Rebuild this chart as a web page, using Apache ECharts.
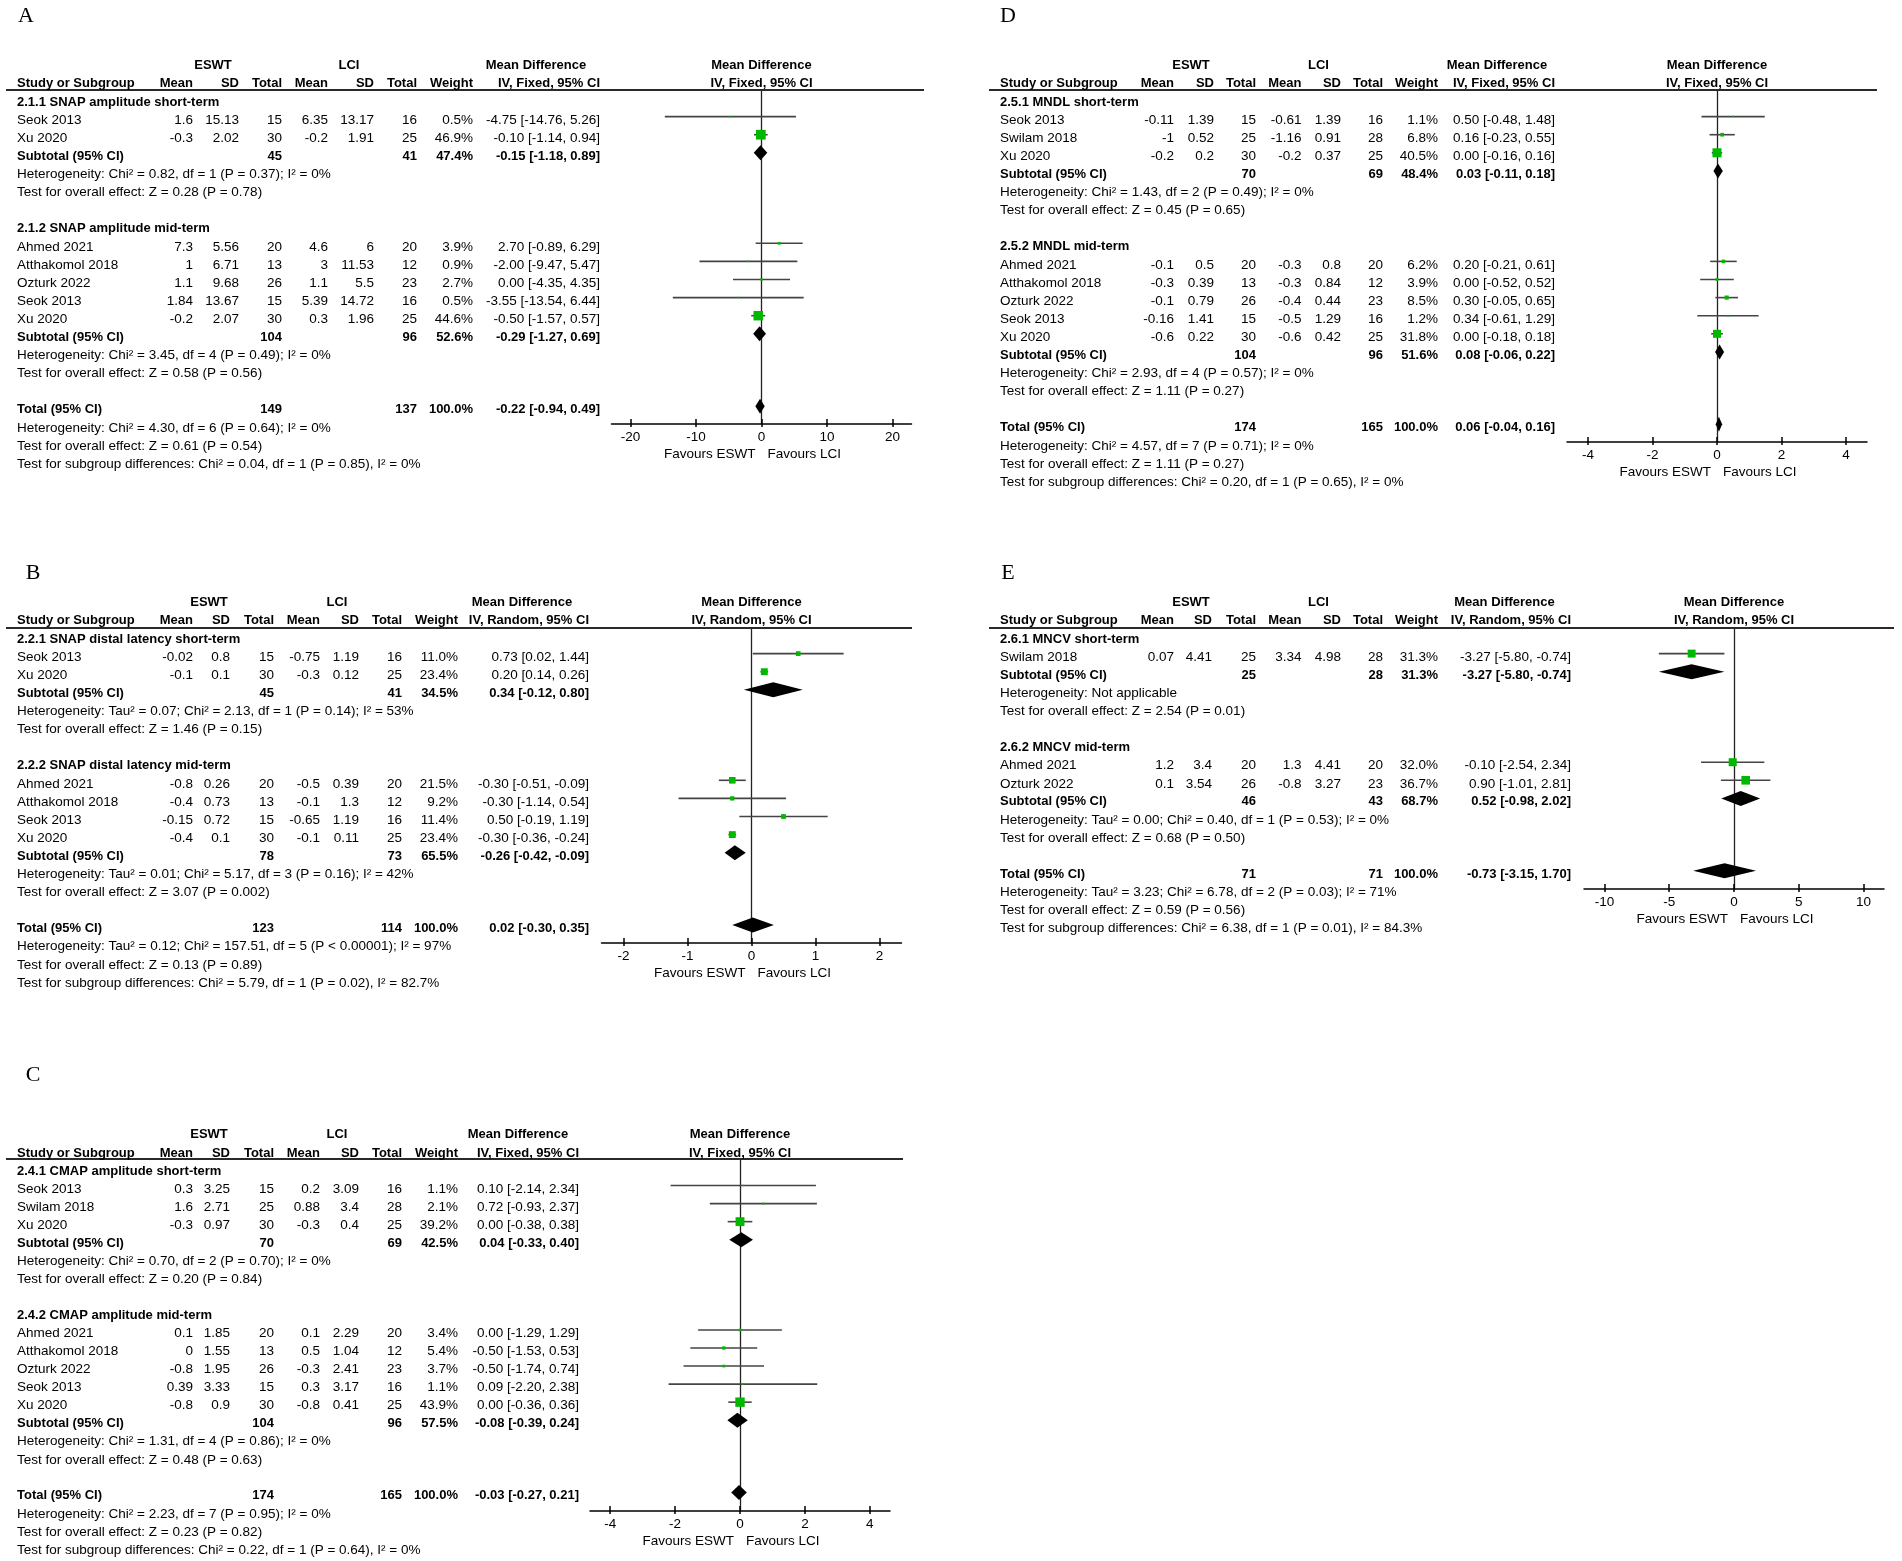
<!DOCTYPE html>
<html>
<head>
<meta charset="utf-8">
<script src="https://cdn.jsdelivr.net/npm/echarts@6.0.0/dist/echarts.min.js"></script>
<style>
html,body{margin:0;padding:0;background:#fff;}
#c{width:1902px;height:1561px;}
</style>
</head>
<body>
<div id="c"></div>
<script>
// ---------------- DATA ----------------
// row types: g = subgroup heading, s = study, sub = subtotal/total (diamond), t = text line, b = blank
// s:   [type, name, meanE, sdE, nE, meanL, sdL, nL, weight%, MD, lo, hi]
// sub: [type, label, nE, nL, weight%, MD, lo, hi]
const panelLabels = ['A', 'B', 'C', 'D', 'E'];
const methods = ['IV, Fixed, 95% CI', 'IV, Random, 95% CI', 'IV, Fixed, 95% CI', 'IV, Fixed, 95% CI', 'IV, Random, 95% CI'];
const ticksA = [-20, -10, 0, 10, 20];
const ticksB = [-2, -1, 0, 1, 2];
const ticksC = [-4, -2, 0, 2, 4];
const ticksD = [-4, -2, 0, 2, 4];
const ticksE = [-10, -5, 0, 5, 10];

const rowsA = [
  ['g', '2.1.1 SNAP amplitude short-term'],
  ['s', 'Seok 2013', 1.6, 15.13, 15, 6.35, 13.17, 16, 0.5, -4.75, -14.76, 5.26],
  ['s', 'Xu 2020', -0.3, 2.02, 30, -0.2, 1.91, 25, 46.9, -0.10, -1.14, 0.94],
  ['sub', 'Subtotal (95% CI)', 45, 41, 47.4, -0.15, -1.18, 0.89],
  ['t', 'Heterogeneity: Chi² = 0.82, df = 1 (P = 0.37); I² = 0%'],
  ['t', 'Test for overall effect: Z = 0.28 (P = 0.78)'],
  ['b'],
  ['g', '2.1.2 SNAP amplitude mid-term'],
  ['s', 'Ahmed 2021', 7.3, 5.56, 20, 4.6, 6, 20, 3.9, 2.70, -0.89, 6.29],
  ['s', 'Atthakomol 2018', 1, 6.71, 13, 3, 11.53, 12, 0.9, -2.00, -9.47, 5.47],
  ['s', 'Ozturk 2022', 1.1, 9.68, 26, 1.1, 5.5, 23, 2.7, 0.00, -4.35, 4.35],
  ['s', 'Seok 2013', 1.84, 13.67, 15, 5.39, 14.72, 16, 0.5, -3.55, -13.54, 6.44],
  ['s', 'Xu 2020', -0.2, 2.07, 30, 0.3, 1.96, 25, 44.6, -0.50, -1.57, 0.57],
  ['sub', 'Subtotal (95% CI)', 104, 96, 52.6, -0.29, -1.27, 0.69],
  ['t', 'Heterogeneity: Chi² = 3.45, df = 4 (P = 0.49); I² = 0%'],
  ['t', 'Test for overall effect: Z = 0.58 (P = 0.56)'],
  ['b'],
  ['sub', 'Total (95% CI)', 149, 137, 100.0, -0.22, -0.94, 0.49],
  ['t', 'Heterogeneity: Chi² = 4.30, df = 6 (P = 0.64); I² = 0%'],
  ['t', 'Test for overall effect: Z = 0.61 (P = 0.54)'],
  ['t', 'Test for subgroup differences: Chi² = 0.04, df = 1 (P = 0.85), I² = 0%']
];

const rowsB = [
  ['g', '2.2.1 SNAP distal latency short-term'],
  ['s', 'Seok 2013', -0.02, 0.8, 15, -0.75, 1.19, 16, 11.0, 0.73, 0.02, 1.44],
  ['s', 'Xu 2020', -0.1, 0.1, 30, -0.3, 0.12, 25, 23.4, 0.20, 0.14, 0.26],
  ['sub', 'Subtotal (95% CI)', 45, 41, 34.5, 0.34, -0.12, 0.80],
  ['t', 'Heterogeneity: Tau² = 0.07; Chi² = 2.13, df = 1 (P = 0.14); I² = 53%'],
  ['t', 'Test for overall effect: Z = 1.46 (P = 0.15)'],
  ['b'],
  ['g', '2.2.2 SNAP distal latency mid-term'],
  ['s', 'Ahmed 2021', -0.8, 0.26, 20, -0.5, 0.39, 20, 21.5, -0.30, -0.51, -0.09],
  ['s', 'Atthakomol 2018', -0.4, 0.73, 13, -0.1, 1.3, 12, 9.2, -0.30, -1.14, 0.54],
  ['s', 'Seok 2013', -0.15, 0.72, 15, -0.65, 1.19, 16, 11.4, 0.50, -0.19, 1.19],
  ['s', 'Xu 2020', -0.4, 0.1, 30, -0.1, 0.11, 25, 23.4, -0.30, -0.36, -0.24],
  ['sub', 'Subtotal (95% CI)', 78, 73, 65.5, -0.26, -0.42, -0.09],
  ['t', 'Heterogeneity: Tau² = 0.01; Chi² = 5.17, df = 3 (P = 0.16); I² = 42%'],
  ['t', 'Test for overall effect: Z = 3.07 (P = 0.002)'],
  ['b'],
  ['sub', 'Total (95% CI)', 123, 114, 100.0, 0.02, -0.30, 0.35],
  ['t', 'Heterogeneity: Tau² = 0.12; Chi² = 157.51, df = 5 (P < 0.00001); I² = 97%'],
  ['t', 'Test for overall effect: Z = 0.13 (P = 0.89)'],
  ['t', 'Test for subgroup differences: Chi² = 5.79, df = 1 (P = 0.02), I² = 82.7%']
];

const rowsC = [
  ['g', '2.4.1 CMAP amplitude short-term'],
  ['s', 'Seok 2013', 0.3, 3.25, 15, 0.2, 3.09, 16, 1.1, 0.10, -2.14, 2.34],
  ['s', 'Swilam 2018', 1.6, 2.71, 25, 0.88, 3.4, 28, 2.1, 0.72, -0.93, 2.37],
  ['s', 'Xu 2020', -0.3, 0.97, 30, -0.3, 0.4, 25, 39.2, 0.00, -0.38, 0.38],
  ['sub', 'Subtotal (95% CI)', 70, 69, 42.5, 0.04, -0.33, 0.40],
  ['t', 'Heterogeneity: Chi² = 0.70, df = 2 (P = 0.70); I² = 0%'],
  ['t', 'Test for overall effect: Z = 0.20 (P = 0.84)'],
  ['b'],
  ['g', '2.4.2 CMAP amplitude mid-term'],
  ['s', 'Ahmed 2021', 0.1, 1.85, 20, 0.1, 2.29, 20, 3.4, 0.00, -1.29, 1.29],
  ['s', 'Atthakomol 2018', 0, 1.55, 13, 0.5, 1.04, 12, 5.4, -0.50, -1.53, 0.53],
  ['s', 'Ozturk 2022', -0.8, 1.95, 26, -0.3, 2.41, 23, 3.7, -0.50, -1.74, 0.74],
  ['s', 'Seok 2013', 0.39, 3.33, 15, 0.3, 3.17, 16, 1.1, 0.09, -2.20, 2.38],
  ['s', 'Xu 2020', -0.8, 0.9, 30, -0.8, 0.41, 25, 43.9, 0.00, -0.36, 0.36],
  ['sub', 'Subtotal (95% CI)', 104, 96, 57.5, -0.08, -0.39, 0.24],
  ['t', 'Heterogeneity: Chi² = 1.31, df = 4 (P = 0.86); I² = 0%'],
  ['t', 'Test for overall effect: Z = 0.48 (P = 0.63)'],
  ['b'],
  ['sub', 'Total (95% CI)', 174, 165, 100.0, -0.03, -0.27, 0.21],
  ['t', 'Heterogeneity: Chi² = 2.23, df = 7 (P = 0.95); I² = 0%'],
  ['t', 'Test for overall effect: Z = 0.23 (P = 0.82)'],
  ['t', 'Test for subgroup differences: Chi² = 0.22, df = 1 (P = 0.64), I² = 0%']
];

const rowsD = [
  ['g', '2.5.1 MNDL short-term'],
  ['s', 'Seok 2013', -0.11, 1.39, 15, -0.61, 1.39, 16, 1.1, 0.50, -0.48, 1.48],
  ['s', 'Swilam 2018', -1, 0.52, 25, -1.16, 0.91, 28, 6.8, 0.16, -0.23, 0.55],
  ['s', 'Xu 2020', -0.2, 0.2, 30, -0.2, 0.37, 25, 40.5, 0.00, -0.16, 0.16],
  ['sub', 'Subtotal (95% CI)', 70, 69, 48.4, 0.03, -0.11, 0.18],
  ['t', 'Heterogeneity: Chi² = 1.43, df = 2 (P = 0.49); I² = 0%'],
  ['t', 'Test for overall effect: Z = 0.45 (P = 0.65)'],
  ['b'],
  ['g', '2.5.2 MNDL mid-term'],
  ['s', 'Ahmed 2021', -0.1, 0.5, 20, -0.3, 0.8, 20, 6.2, 0.20, -0.21, 0.61],
  ['s', 'Atthakomol 2018', -0.3, 0.39, 13, -0.3, 0.84, 12, 3.9, 0.00, -0.52, 0.52],
  ['s', 'Ozturk 2022', -0.1, 0.79, 26, -0.4, 0.44, 23, 8.5, 0.30, -0.05, 0.65],
  ['s', 'Seok 2013', -0.16, 1.41, 15, -0.5, 1.29, 16, 1.2, 0.34, -0.61, 1.29],
  ['s', 'Xu 2020', -0.6, 0.22, 30, -0.6, 0.42, 25, 31.8, 0.00, -0.18, 0.18],
  ['sub', 'Subtotal (95% CI)', 104, 96, 51.6, 0.08, -0.06, 0.22],
  ['t', 'Heterogeneity: Chi² = 2.93, df = 4 (P = 0.57); I² = 0%'],
  ['t', 'Test for overall effect: Z = 1.11 (P = 0.27)'],
  ['b'],
  ['sub', 'Total (95% CI)', 174, 165, 100.0, 0.06, -0.04, 0.16],
  ['t', 'Heterogeneity: Chi² = 4.57, df = 7 (P = 0.71); I² = 0%'],
  ['t', 'Test for overall effect: Z = 1.11 (P = 0.27)'],
  ['t', 'Test for subgroup differences: Chi² = 0.20, df = 1 (P = 0.65), I² = 0%']
];

const rowsE = [
  ['g', '2.6.1 MNCV short-term'],
  ['s', 'Swilam 2018', 0.07, 4.41, 25, 3.34, 4.98, 28, 31.3, -3.27, -5.80, -0.74],
  ['sub', 'Subtotal (95% CI)', 25, 28, 31.3, -3.27, -5.80, -0.74],
  ['t', 'Heterogeneity: Not applicable'],
  ['t', 'Test for overall effect: Z = 2.54 (P = 0.01)'],
  ['b'],
  ['g', '2.6.2 MNCV mid-term'],
  ['s', 'Ahmed 2021', 1.2, 3.4, 20, 1.3, 4.41, 20, 32.0, -0.10, -2.54, 2.34],
  ['s', 'Ozturk 2022', 0.1, 3.54, 26, -0.8, 3.27, 23, 36.7, 0.90, -1.01, 2.81],
  ['sub', 'Subtotal (95% CI)', 46, 43, 68.7, 0.52, -0.98, 2.02],
  ['t', 'Heterogeneity: Tau² = 0.00; Chi² = 0.40, df = 1 (P = 0.53); I² = 0%'],
  ['t', 'Test for overall effect: Z = 0.68 (P = 0.50)'],
  ['b'],
  ['sub', 'Total (95% CI)', 71, 71, 100.0, -0.73, -3.15, 1.70],
  ['t', 'Heterogeneity: Tau² = 3.23; Chi² = 6.78, df = 2 (P = 0.03); I² = 71%'],
  ['t', 'Test for overall effect: Z = 0.59 (P = 0.56)'],
  ['t', 'Test for subgroup differences: Chi² = 6.38, df = 1 (P = 0.01), I² = 84.3%']
];

const headerRow1 = ['ESWT', 'LCI', 'Mean Difference'];
const headerRow2 = ['Study or Subgroup', 'Mean', 'SD', 'Total', 'Mean', 'SD', 'Total', 'Weight'];
const favours = ['Favours ESWT', 'Favours LCI'];

// ---------------- LAYOUT (pixel positions only) ----------------
const layouts = [
  {lx: 26, ly: 16, T0: 102, P: 18.1, H: 90, X: 424, lineL: 6, lineR: 924, zero: 761.5, ppu: 6.55,
   cols: [17, 193, 239, 282, 328, 374, 417, 473, 600], hdr: [213, 349, 536]},
  {lx: 33, ly: 573, T0: 639, P: 18.1, H: 628, X: 943, lineL: 6, lineR: 912, zero: 751.5, ppu: 64,
   cols: [17, 193, 230, 274, 320, 359, 402, 458, 589], hdr: [209, 337, 522]},
  {lx: 33, ly: 1075, T0: 1171, P: 18.05, H: 1159, X: 1511, lineL: 6, lineR: 903, zero: 740, ppu: 32.45,
   cols: [17, 193, 230, 274, 320, 359, 402, 458, 579], hdr: [209, 337, 518]},
  {lx: 1008, ly: 16, T0: 102, P: 18.1, H: 90, X: 442, lineL: 989, lineR: 1877, zero: 1717, ppu: 32.27,
   cols: [1000, 1174, 1214, 1256, 1301.5, 1341, 1383, 1438, 1555], hdr: [1191, 1318.5, 1497]},
  {lx: 1008, ly: 573, T0: 639, P: 18.1, H: 628, X: 889, lineL: 989, lineR: 1894, zero: 1734, ppu: 12.96,
   cols: [1000, 1174, 1212, 1256, 1301.5, 1341, 1383, 1438, 1571], hdr: [1191, 1318.5, 1504.5]}
];
const allRows = [rowsA, rowsB, rowsC, rowsD, rowsE];
const allTicks = [ticksA, ticksB, ticksC, ticksD, ticksE];

const FONT_FAMILY = '"Liberation Sans", Arial, sans-serif';
const F_REG = '13.5px ' + FONT_FAMILY;
const F_BOLD = 'bold 13px ' + FONT_FAMILY;
const OFF = 3.5;      // marks sit slightly above the text centre
const HALF = 150;     // half width of plot area (px)
const GREEN = '#00b800';

function renderStudy(params, api) {
  const md = api.value(0), lo = api.value(1), hi = api.value(2), r = api.value(3), w = api.value(4);
  const a = api.coord([lo, r]), b = api.coord([hi, r]), c = api.coord([md, r]);
  const s = Math.max(1.5, 1.42 * Math.sqrt(w));
  return {
    type: 'group',
    children: [
      {type: 'line', shape: {x1: a[0], y1: a[1], x2: b[0], y2: b[1]}, style: {stroke: '#444', lineWidth: 1.6}},
      {type: 'rect', shape: {x: c[0] - s / 2, y: c[1] - s / 2, width: s, height: s}, style: {fill: GREEN}}
    ]
  };
}
function renderDiamond(params, api) {
  const md = api.value(0), lo = api.value(1), hi = api.value(2), r = api.value(3);
  const a = api.coord([lo, r]), b = api.coord([hi, r]), c = api.coord([md, r]);
  const h = 7.5;
  return {
    type: 'polygon',
    shape: {points: [[a[0], a[1]], [c[0], c[1] - h], [b[0], b[1]], [c[0], c[1] + h]]},
    style: {fill: '#000'}
  };
}

const chart = echarts.init(document.getElementById('c'), null, {renderer: 'canvas'});
const grids = [], xAxes = [], yAxes = [], series = [];

layouts.forEach((p, k) => {
  const rows = allRows[k];
  const ticks = allTicks[k];
  const xr = HALF / p.ppu;
  grids.push({left: p.zero - HALF, width: 2 * HALF, top: p.H, height: p.X - p.H,
              containLabel: false, outerBoundsMode: 'none', show: false});
  xAxes.push({
    gridIndex: k, type: 'value', min: -xr, max: xr, position: 'bottom',
    axisLine: {show: true, onZero: false, lineStyle: {color: '#000', width: 1.5}},
    axisTick: {show: true, inside: true, length: 5, customValues: ticks, lineStyle: {color: '#000', width: 1.5}},
    axisLabel: {show: true, customValues: ticks, margin: 6, color: '#000', fontSize: 13.5, fontFamily: FONT_FAMILY,
                formatter: v => String(v)},
    splitLine: {show: false}
  });
  xAxes.push({
    gridIndex: k, type: 'value', min: -xr, max: xr, position: 'bottom',
    axisLine: {show: false, onZero: false},
    axisTick: {show: true, inside: false, length: 3, customValues: ticks, lineStyle: {color: '#000', width: 1.5}},
    axisLabel: {show: false},
    splitLine: {show: false}
  });
  yAxes.push({
    gridIndex: k, type: 'value', inverse: true,
    min: (p.H - (p.T0 - OFF)) / p.P, max: (p.X - (p.T0 - OFF)) / p.P,
    axisLine: {show: true, onZero: true, lineStyle: {color: '#222', width: 1.3}},
    axisTick: {show: false}, axisLabel: {show: false}, splitLine: {show: false}
  });
  const studyData = [], diamondData = [];
  rows.forEach((r, i) => {
    if (r[0] === 's') studyData.push([r[9], r[10], r[11], i, r[8]]);
    if (r[0] === 'sub') diamondData.push([r[5], r[6], r[7], i]);
  });
  series.push({type: 'custom', coordinateSystem: 'cartesian2d', xAxisIndex: 2 * k, yAxisIndex: k,
               renderItem: renderStudy, data: studyData, encode: {x: [0, 1, 2], y: 3}, silent: true, z: 3});
  series.push({type: 'custom', coordinateSystem: 'cartesian2d', xAxisIndex: 2 * k, yAxisIndex: k,
               renderItem: renderDiamond, data: diamondData, encode: {x: [0, 1, 2], y: 3}, silent: true, z: 4});
});

chart.setOption({
  animation: false,
  backgroundColor: '#fff',
  grid: grids, xAxis: xAxes, yAxis: yAxes, series: series
});

// ---------------- TEXT (table) ----------------
function txt(text, x, y, font, align) {
  return {type: 'text', silent: true, z: 10,
    style: {text: String(text), x: x, y: y, font: font, fill: '#000',
            textAlign: align, align: align, textVerticalAlign: 'middle', verticalAlign: 'middle'}};
}
const fmt = v => String(v);
const fmtMD = (md, lo, hi) => md.toFixed(2) + ' [' + lo.toFixed(2) + ', ' + hi.toFixed(2) + ']';

const graphics = [];
layouts.forEach((p, k) => {
  const rows = allRows[k];
  const c = p.cols;
  const ry = r => chart.convertToPixel({yAxisIndex: k}, r) + OFF;
  // panel letter
  graphics.push({type: 'text', silent: true,
    style: {text: panelLabels[k], x: p.lx, y: p.ly, font: '22px "Liberation Serif", "Times New Roman", serif',
            fill: '#000', textAlign: 'center', align: 'center', textVerticalAlign: 'middle', verticalAlign: 'middle'}});
  // header
  const h1 = ry(-2), h2 = ry(-1);
  graphics.push(txt(headerRow1[0], p.hdr[0], h1, F_BOLD, 'center'));
  graphics.push(txt(headerRow1[1], p.hdr[1], h1, F_BOLD, 'center'));
  graphics.push(txt(headerRow1[2], p.hdr[2], h1, F_BOLD, 'center'));
  graphics.push(txt(headerRow1[2], p.zero, h1, F_BOLD, 'center'));
  graphics.push(txt(headerRow2[0], c[0], h2, F_BOLD, 'left'));
  for (let j = 1; j < 8; j++) graphics.push(txt(headerRow2[j], c[j], h2, F_BOLD, 'right'));
  graphics.push(txt(methods[k], c[8], h2, F_BOLD, 'right'));
  graphics.push(txt(methods[k], p.zero, h2, F_BOLD, 'center'));
  // header rule
  graphics.push({type: 'line', silent: true, z: 5,
    shape: {x1: p.lineL, y1: p.H, x2: p.lineR, y2: p.H}, style: {stroke: '#2a2a2a', lineWidth: 2}});
  // rows
  rows.forEach((r, i) => {
    const y = ry(i);
    if (r[0] === 'g') {
      graphics.push(txt(r[1], c[0], y, F_BOLD, 'left'));
    } else if (r[0] === 't') {
      graphics.push(txt(r[1], c[0], y, F_REG, 'left'));
    } else if (r[0] === 's') {
      graphics.push(txt(r[1], c[0], y, F_REG, 'left'));
      graphics.push(txt(fmt(r[2]), c[1], y, F_REG, 'right'));
      graphics.push(txt(fmt(r[3]), c[2], y, F_REG, 'right'));
      graphics.push(txt(fmt(r[4]), c[3], y, F_REG, 'right'));
      graphics.push(txt(fmt(r[5]), c[4], y, F_REG, 'right'));
      graphics.push(txt(fmt(r[6]), c[5], y, F_REG, 'right'));
      graphics.push(txt(fmt(r[7]), c[6], y, F_REG, 'right'));
      graphics.push(txt(r[8].toFixed(1) + '%', c[7], y, F_REG, 'right'));
      graphics.push(txt(fmtMD(r[9], r[10], r[11]), c[8], y, F_REG, 'right'));
    } else if (r[0] === 'sub') {
      graphics.push(txt(r[1], c[0], y, F_BOLD, 'left'));
      graphics.push(txt(fmt(r[2]), c[3], y, F_BOLD, 'right'));
      graphics.push(txt(fmt(r[3]), c[6], y, F_BOLD, 'right'));
      graphics.push(txt(r[4].toFixed(1) + '%', c[7], y, F_BOLD, 'right'));
      graphics.push(txt(fmtMD(r[5], r[6], r[7]), c[8], y, F_BOLD, 'right'));
    }
  });
  // favours labels
  graphics.push(txt(favours[0], p.zero - 6, p.X + 30, F_REG, 'right'));
  graphics.push(txt(favours[1], p.zero + 6, p.X + 30, F_REG, 'left'));
});

chart.setOption({graphic: graphics});
</script>
</body>
</html>
